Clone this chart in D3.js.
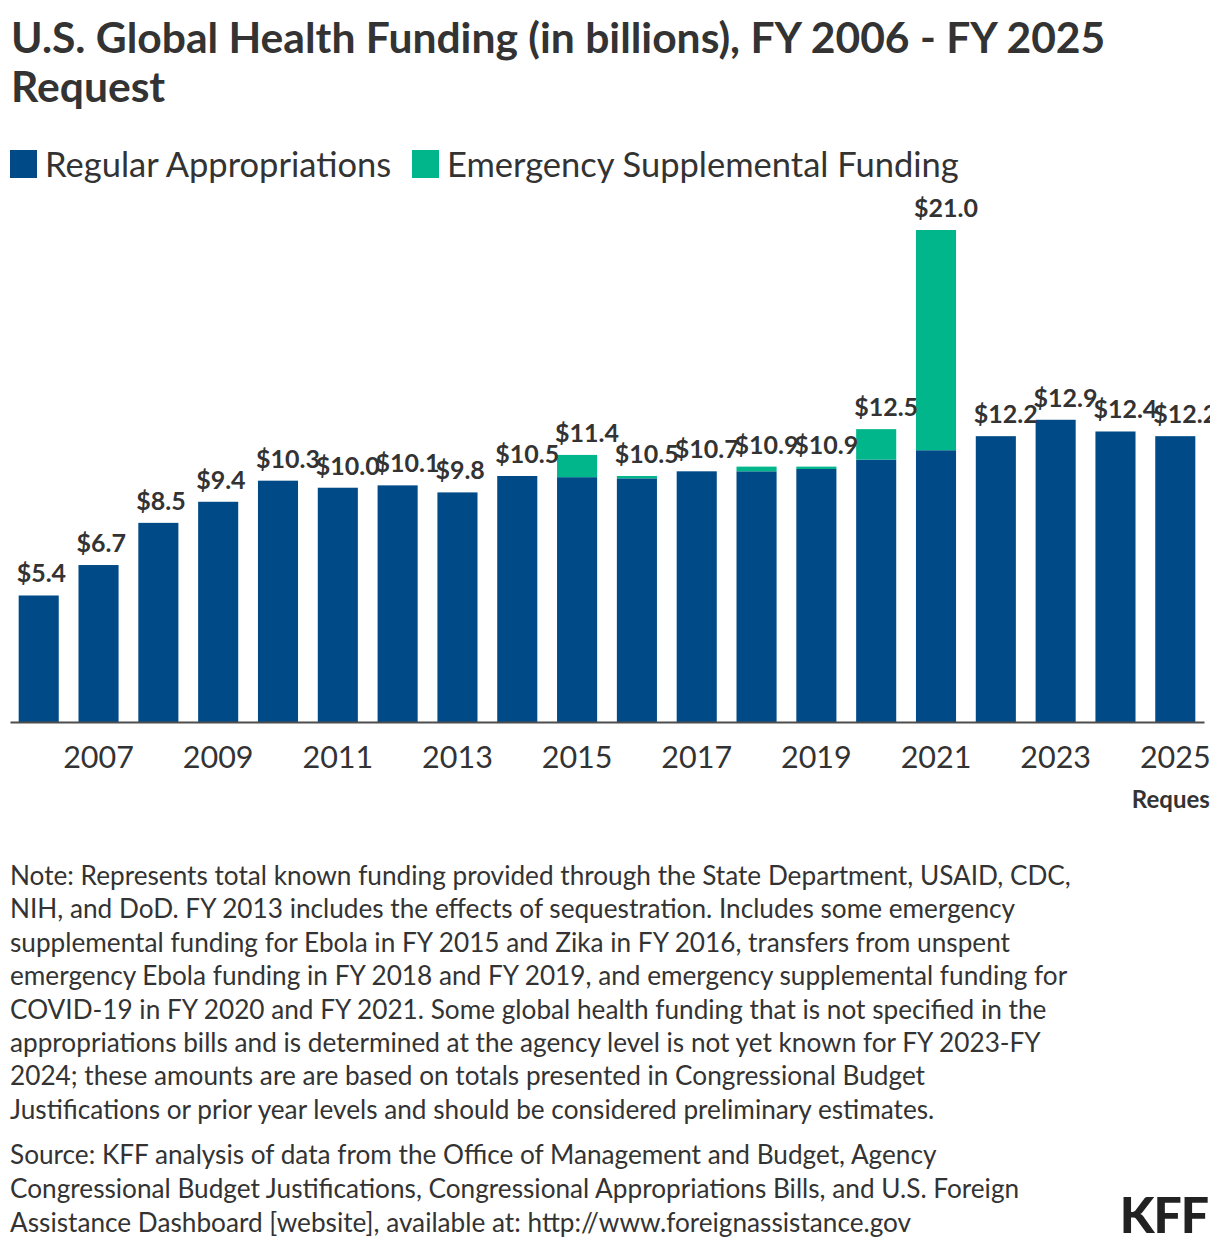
<!DOCTYPE html>
<html>
<head>
<meta charset="utf-8">
<script src="https://cdn.jsdelivr.net/npm/d3@7"></script>
<style>
  html, body { margin: 0; padding: 0; background: #fff; }
  svg { display: block; font-family: Lato, "Noto Sans", sans-serif; }
</style>
</head>
<body>
<svg id="chart" width="1210" height="1250"></svg>
<script>
// ---- data ----
const years = ["2006","2007","2008","2009","2010","2011","2012","2013","2014","2015",
               "2016","2017","2018","2019","2020","2021","2022","2023","2024","2025"];
const regular   = [5.4, 6.7, 8.5, 9.4, 10.3, 10.0, 10.1, 9.8, 10.5, 10.45,
                   10.4, 10.7, 10.7, 10.8, 11.2, 11.6, 12.2, 12.9, 12.4, 12.2];
const emergency = [0, 0, 0, 0, 0, 0, 0, 0, 0, 0.95,
                   0.1, 0, 0.2, 0.1, 1.3, 9.4, 0, 0, 0, 0];
const tickYears = ["2007","2009","2011","2013","2015","2017","2019","2021","2023","2025"];
const seriesNames = ["Regular Appropriations", "Emergency Supplemental Funding"];
const titleLines = ["U.S. Global Health Funding (in billions), FY 2006 - FY 2025", "Request"];
const noteLines = [
  "Note: Represents total known funding provided through the State Department, USAID, CDC,",
  "NIH, and DoD. FY 2013 includes the effects of sequestration. Includes some emergency",
  "supplemental funding for Ebola in FY 2015 and Zika in FY 2016, transfers from unspent",
  "emergency Ebola funding in FY 2018 and FY 2019, and emergency supplemental funding for",
  "COVID-19 in FY 2020 and FY 2021. Some global health funding that is not specified in the",
  "appropriations bills and is determined at the agency level is not yet known for FY 2023-FY",
  "2024; these amounts are are based on totals presented in Congressional Budget",
  "Justifications or prior year levels and should be considered preliminary estimates."
];
const sourceLines = [
  "Source: KFF analysis of data from the Office of Management and Budget, Agency",
  "Congressional Budget Justifications, Congressional Appropriations Bills, and U.S. Foreign",
  "Assistance Dashboard [website], available at: http://www.foreignassistance.gov"
];

// ---- styles ----
const colors = ["#004b87", "#00b68a"];
const textColor = "#333333";

const svg = d3.select("#chart");

// title
svg.append("g").selectAll("text").data(titleLines).join("text")
  .attr("x", 11).attr("y", (d, i) => 53 + i * 49)
  .attr("font-size", 42.6).attr("font-weight", 700).attr("fill", textColor)
  .text(d => d);

// legend
const legendX = [10, 412];
const lg = svg.append("g");
seriesNames.forEach((name, i) => {
  lg.append("rect").attr("x", legendX[i]).attr("y", 150).attr("width", 27).attr("height", 28)
    .attr("fill", colors[i]);
  lg.append("text").attr("x", legendX[i] + 35).attr("y", 177)
    .attr("font-size", 34.5).attr("fill", textColor).text(name);
});

// scales
const x = d3.scaleBand().domain(years).range([10, 1204]).paddingInner(0.33).paddingOuter(0.145);
const y = d3.scaleLinear().domain([0, 21]).range([722, 230]);

const rows = years.map((yr, i) => ({ year: yr, regular: regular[i], emergency: emergency[i] }));
const stack = d3.stack().keys(["regular", "emergency"])(rows);

const bars = svg.append("g");
stack.forEach((layer, li) => {
  bars.append("g").attr("fill", colors[li]).selectAll("rect")
    .data(layer.filter(d => d[1] - d[0] > 0)).join("rect")
    .attr("x", d => x(d.data.year))
    .attr("y", d => y(d[1]))
    .attr("width", x.bandwidth())
    .attr("height", d => y(d[0]) - y(d[1]));
});

// value labels
svg.append("g").selectAll("text").data(rows).join("text")
  .attr("x", d => x(d.year) - 2)
  .attr("y", d => y(d.regular + d.emergency) - 13)
  .attr("font-size", 25).attr("font-weight", 700).attr("fill", textColor)
  .text(d => "$" + d3.format(".1f")(d.regular + d.emergency));

// x axis
const axis = d3.axisBottom(x).tickValues(tickYears).tickSize(0).tickSizeOuter(0);
const ag = svg.append("g").attr("transform", "translate(0,722)").call(axis);
ag.select(".domain").attr("stroke", "#4d4d4d").attr("stroke-width", 2);
ag.selectAll(".tick text").attr("y", 46).attr("dy", null)
  .attr("font-family", "Lato, sans-serif").attr("font-size", 30.5).attr("fill", textColor);

svg.append("text")
  .attr("x", x("2025") + x.bandwidth() / 2).attr("y", 808)
  .attr("text-anchor", "middle").attr("font-size", 24).attr("font-weight", 700)
  .attr("fill", textColor).text("Request");

// notes
svg.append("g").selectAll("text").data(noteLines).join("text")
  .attr("x", 10).attr("y", (d, i) => 885 + i * 33.4)
  .attr("font-size", 26.2).attr("fill", textColor).text(d => d);
svg.append("g").selectAll("text").data(sourceLines).join("text")
  .attr("x", 10).attr("y", (d, i) => 1164 + i * 34)
  .attr("font-size", 26.2).attr("fill", textColor).text(d => d);

// logo
svg.append("text").attr("x", 1208).attr("y", 1233).attr("text-anchor", "end")
  .attr("font-size", 50).attr("font-weight", 900).attr("letter-spacing", -1)
  .attr("fill", "#222").text("KFF");
</script>
</body>
</html>
